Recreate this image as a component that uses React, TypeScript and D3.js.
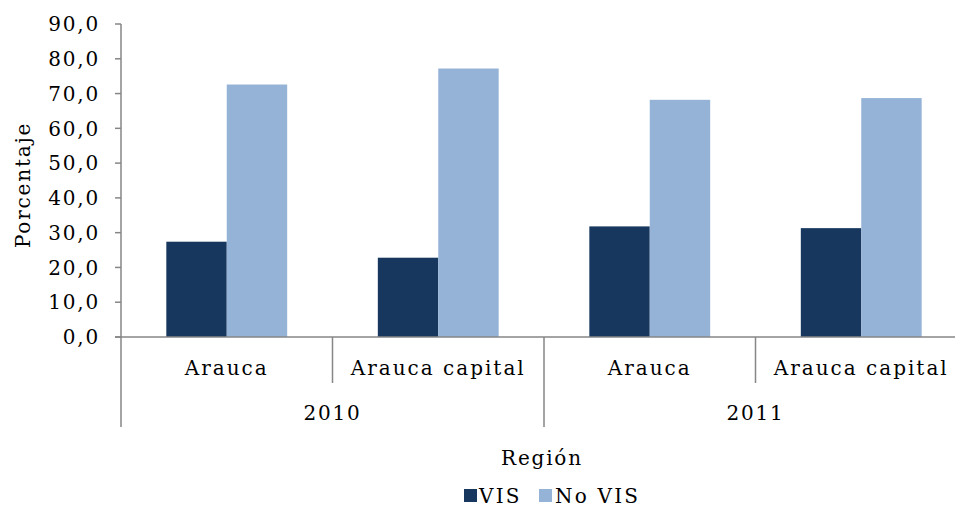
import React from "react";
import * as d3 from "d3";

const years = ["2010", "2011"];
const regions = ["Arauca", "Arauca capital"];
const series = ["VIS", "No VIS"];
const vis = [27.4, 22.8, 31.8, 31.3];
const noVis = [72.6, 77.2, 68.2, 68.7];
const yTicks = [0, 10, 20, 30, 40, 50, 60, 70, 80, 90];

const colors = ["#17375E", "#95B3D7"];
const axisColor = "#868686";
const font = "'DejaVu Serif', serif";

const width = 955,
  height = 508;
const left = 121,
  right = 967,
  top = 24,
  bottom = 337;

export default function App() {
  const cats = years.flatMap((yr) => regions.map((r) => `${yr}|${r}`));

  const x = d3.scaleBand().domain(cats).range([left, right]).paddingInner(0).paddingOuter(0);
  const inner = d3
    .scaleBand()
    .domain(series)
    .range([0, x.bandwidth()])
    .paddingOuter(0.75)
    .paddingInner(0);
  const y = d3.scaleLinear().domain([0, 90]).range([bottom, top]);

  const values = [vis, noVis];
  const fmt = (v: number) => d3.format(".1f")(v).replace(".", ",");

  const yearScale = d3.scaleBand().domain(years).range([left, right]);

  return (
    <svg
      width={width}
      height={height}
      style={{ position: "absolute", left: 0, top: 0, background: "#fff" }}
      fontFamily={font}
    >
      {/* y axis */}
      <line x1={left} x2={left} y1={top} y2={bottom} stroke={axisColor} strokeWidth={1.5} />
      {yTicks.map((t) => (
        <g key={t}>
          <line x1={left - 6} x2={left} y1={y(t)} y2={y(t)} stroke={axisColor} strokeWidth={1.5} />
          <text
            x={100}
            y={y(t)}
            dy="0.36em"
            textAnchor="end"
            fontSize={20}
            letterSpacing={1.8}
            fill="#000"
          >
            {fmt(t)}
          </text>
        </g>
      ))}
      <text
        transform={`translate(30,185) rotate(-90)`}
        textAnchor="middle"
        fontSize={20}
        letterSpacing={1.8}
      >
        Porcentaje
      </text>

      {/* bars */}
      {cats.map((c, i) =>
        series.map((s, j) => (
          <rect
            key={c + s}
            x={(x(c) as number) + (inner(s) as number)}
            y={y(values[j][i])}
            width={inner.bandwidth()}
            height={bottom - y(values[j][i])}
            fill={colors[j]}
          />
        ))
      )}

      {/* x axis */}
      <line x1={left - 6} x2={right} y1={bottom} y2={bottom} stroke={axisColor} strokeWidth={1.5} />
      {cats.map((c, i) => {
        const x0 = x(c) as number;
        const outer = i % regions.length === 0;
        return (
          <g key={c}>
            <line
              x1={x0}
              x2={x0}
              y1={bottom}
              y2={outer ? 427 : 383}
              stroke={axisColor}
              strokeWidth={1.5}
            />
            <text
              x={x0 + x.bandwidth() / 2}
              y={375}
              textAnchor="middle"
              fontSize={20}
              letterSpacing={2}
            >
              {c.split("|")[1]}
            </text>
          </g>
        );
      })}
      <line x1={right} x2={right} y1={bottom} y2={427} stroke={axisColor} strokeWidth={1.5} />
      {years.map((yr) => (
        <text
          key={yr}
          x={(yearScale(yr) as number) + yearScale.bandwidth() / 2}
          y={420}
          textAnchor="middle"
          fontSize={20}
          letterSpacing={1.8}
        >
          {yr}
        </text>
      ))}

      <text x={542} y={465} textAnchor="middle" fontSize={20} letterSpacing={1.8}>
        Región
      </text>

      {/* legend */}
      <rect x={464} y={489} width={13} height={13} fill={colors[0]} />
      <text x={479} y={503} fontSize={20} letterSpacing={2.2}>
        {series[0]}
      </text>
      <rect x={539} y={489} width={13} height={13} fill={colors[1]} />
      <text x={555} y={503} fontSize={20} letterSpacing={2.2}>
        {series[1]}
      </text>
    </svg>
  );
}
